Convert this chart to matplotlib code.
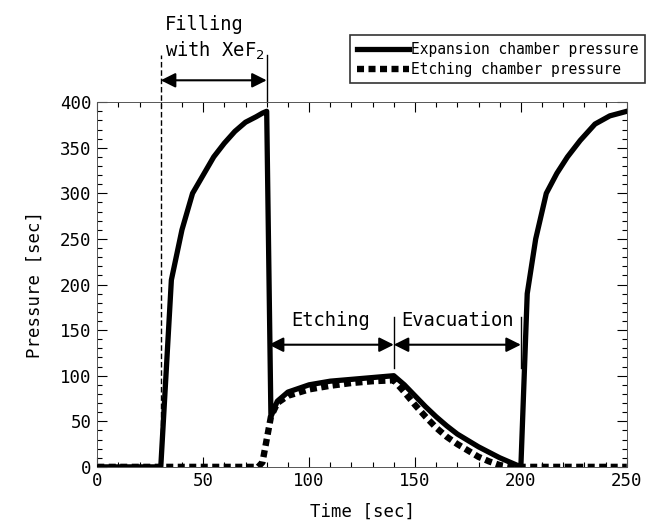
import numpy as np
import matplotlib.pyplot as plt
from matplotlib.ticker import MultipleLocator

# Data
exp_t = [0, 30, 35, 40, 45, 50, 55, 60, 65, 70, 75, 78, 80, 82, 85, 90, 100, 110, 120, 130, 140,
         145, 150, 155, 160, 165, 170, 175, 180, 185, 190, 195, 200,
         203, 207, 212, 217, 222, 228, 235, 242, 250]
exp_p = [0, 0, 205, 260, 300, 320, 340, 355, 368, 378, 384, 388, 390, 55, 72, 82, 90, 94, 96, 98, 100,
         90, 78, 66, 55, 45, 36, 29, 22, 16, 10, 5, 0,
         190, 250, 300, 322, 340, 358, 376, 385, 390]

etch_t = [0, 76, 78, 80, 82, 85, 90, 100, 110, 120, 130, 140,
          145, 150, 155, 160, 165, 170, 175, 180, 185, 190, 195, 200, 250]
etch_p = [0, 0, 5, 30, 55, 70, 78, 85, 89, 92, 94, 95,
          82, 68, 55, 43, 33, 25, 18, 11, 6, 2, 0, 0, 0]

fig = plt.figure(figsize=(6.57, 5.24), dpi=100)
ax = fig.add_axes([0.148, 0.109, 0.806, 0.696])
font = 'DejaVu Sans Mono'

ax.plot(exp_t, exp_p, color='black', lw=3.8, solid_joinstyle='round',
        label='Expansion chamber pressure', zorder=3)
ax.plot(etch_t, etch_p, color='black', lw=4.6, linestyle=(0, (1.1, 0.7)),
        label='Etching chamber pressure', zorder=2)

ax.set_xlim(0, 250)
ax.set_ylim(0, 400)
ax.xaxis.set_major_locator(MultipleLocator(50))
ax.xaxis.set_minor_locator(MultipleLocator(10))
ax.yaxis.set_major_locator(MultipleLocator(50))
ax.yaxis.set_minor_locator(MultipleLocator(10))
ax.tick_params(which='both', direction='in', top=True, right=True, width=0.8)
ax.tick_params(which='major', length=7, labelsize=12.5, pad=4)
ax.tick_params(which='minor', length=3.5)
for lab in ax.get_xticklabels() + ax.get_yticklabels():
    lab.set_family(font)
for sp in ax.spines.values():
    sp.set_linewidth(0.7)
    sp.set_color('#555555')

ax.set_xlabel('Time [sec]', fontsize=12.5, family=font, labelpad=9)
ax.set_ylabel('Pressure [sec]', fontsize=12.5, family=font, labelpad=12)

# annotations
arr = dict(arrowstyle='<|-|>', color='black', lw=1.5, mutation_scale=22, shrinkA=0, shrinkB=0)
ax.plot([30, 30], [0, 452], color='black', lw=1, linestyle=(0, (4, 2)), clip_on=False)
ax.plot([80, 80], [400, 452], color='black', lw=1, clip_on=False)
ax.annotate('', xy=(30, 424), xytext=(80, 424), arrowprops=arr, annotation_clip=False)
ax.text(32, 444, 'Filling\nwith XeF$_2$', ha='left', va='bottom', fontsize=13.5,
        family=font, linespacing=1.35)

ax.plot([140, 140], [108, 164], color='black', lw=1)
ax.plot([200, 200], [108, 164], color='black', lw=1)
ax.annotate('', xy=(81, 134), xytext=(140, 134), arrowprops=arr)
ax.annotate('', xy=(140, 134), xytext=(200, 134), arrowprops=arr)
ax.text(110, 150, 'Etching', ha='center', va='bottom', fontsize=13.5, family=font)
ax.text(170, 150, 'Evacuation', ha='center', va='bottom', fontsize=13.5, family=font)

leg = ax.legend(loc='upper right', bbox_to_anchor=(1.034, 1.184), frameon=True, fancybox=False,
                edgecolor='black', handlelength=3.6, handletextpad=0.1,
                borderpad=0.45, labelspacing=0.35, borderaxespad=0,
                prop={'family': font, 'size': 10.5})
leg.get_frame().set_linewidth(1.2)

fig.savefig('out.png', dpi=100)
